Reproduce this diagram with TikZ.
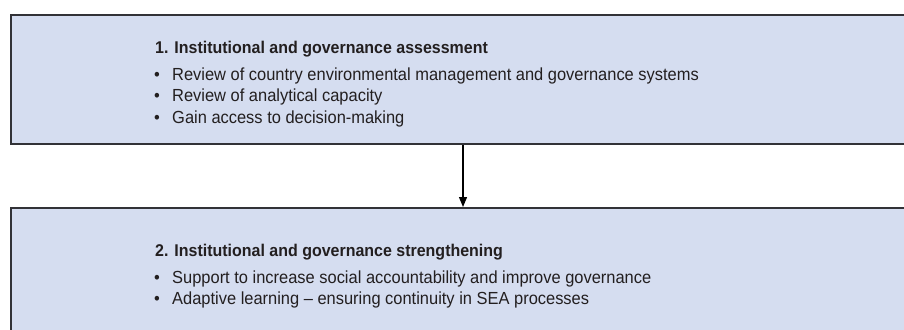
\documentclass[tikz,border=0pt]{standalone}
\usepackage{fontspec}
\setmainfont{Liberation Sans}[FakeStretch=0.94]
\usetikzlibrary{arrows.meta}
\definecolor{boxfill}{RGB}{213,221,240}
\definecolor{boxline}{RGB}{50,50,55}
\definecolor{txt}{RGB}{35,31,32}
\tikzset{
  panel/.style={draw=boxline, line width=1.8pt, fill=boxfill, anchor=north west, inner sep=0pt},
  ttl/.style={anchor=base west, inner sep=0pt, text=txt, font=\fontsize{17}{20}\selectfont\bfseries},
  itm/.style={anchor=base west, inner sep=0pt, text=txt, font=\fontsize{17.5}{21}\selectfont},
  blt/.style={anchor=base west, inner sep=0pt, text=txt, font=\fontsize{17.5}{21}\selectfont},
  flow/.style={draw=black, line width=1.2pt, -{Triangle[length=10pt,width=8pt]}}
}
\begin{document}
\begin{tikzpicture}[x=1pt,y=-1pt]
\useasboundingbox (0,0) rectangle (904,329);
\clip (0,0) rectangle (904,329);
\node[panel, minimum width=900pt, minimum height=128.5pt] (box1) at (10,14.5) {};
\node[panel, minimum width=900pt, minimum height=130pt] (box2) at (10,207) {};
\coordinate (ax) at (463,0);
\draw[flow] (box1.south -| ax) -- (box2.north -| ax);
% box 1 text
\node[ttl] (t1) at (155,53) {1. Institutional and governance assessment};
\node[blt] (d11) at (154,80) {•};
\node[itm] (i11) at (172,80) {Review of country environmental management and governance systems};
\node[blt] (d12) at (154,101.7) {•};
\node[itm] (i12) at (172,101.7) {Review of analytical capacity};
\node[blt] (d13) at (154,123.3) {•};
\node[itm] (i13) at (172,123.3) {Gain access to decision-making};
% box 2 text
\node[ttl] (t2) at (155,256) {2. Institutional and governance strengthening};
\node[blt] (d21) at (154,283.3) {•};
\node[itm] (i21) at (172,283.3) {Support to increase social accountability and improve governance};
\node[blt] (d22) at (154,304.3) {•};
\node[itm] (i22) at (172,304.3) {Adaptive learning – ensuring continuity in SEA processes};
\end{tikzpicture}
\end{document}
